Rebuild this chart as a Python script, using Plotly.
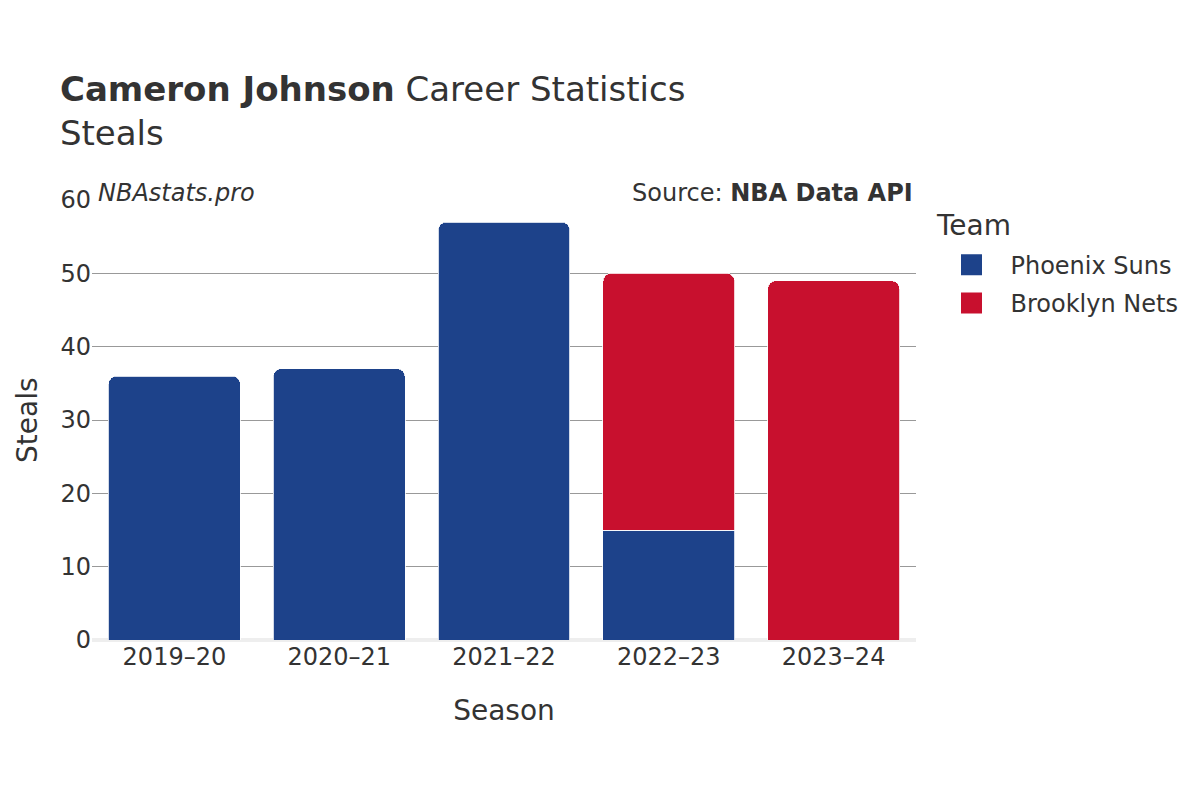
import plotly.graph_objects as go

seasons = ["2019–20", "2020–21", "2021–22", "2022–23", "2023–24"]
suns_steals = [36, 37, 57, 15, None]
nets_steals = [None, None, None, 35, 49]

teams = [
    ("Phoenix Suns", suns_steals, "#1D428A"),
    ("Brooklyn Nets", nets_steals, "#C8102E"),
]

fig = go.Figure()
for name, vals, color in teams:
    fig.add_trace(go.Bar(
        x=seasons, y=vals, name=name, showlegend=False, legendgroup=name,
        marker=dict(color=color, line=dict(color="rgba(255,255,255,0.8)", width=1)),
    ))
# legend entries (larger square symbols)
for name, vals, color in teams:
    fig.add_trace(go.Scatter(
        x=[seasons[0]], y=[None], name=name, legendgroup=name, mode="markers",
        marker=dict(symbol="square", size=16, color=color,
                    line=dict(color=color, width=5)),
        hoverinfo="skip",
    ))

font_family = "DejaVu Sans"
fig.update_layout(
    width=1200, height=800,
    barmode="stack",
    bargap=0.2,
    barcornerradius=8,
    plot_bgcolor="white",
    paper_bgcolor="white",
    font=dict(family=font_family, size=24, color="#333333"),
    margin=dict(l=84, r=292, t=192, b=168),
    title=dict(
        text="<b>Cameron Johnson</b> Career Statistics<br>Steals",
        x=0.0433, xanchor="left",
        y=0.884, yanchor="top",
        font=dict(size=34, color="#333333"),
    ),
    xaxis=dict(
        title=dict(text="Season", font=dict(size=28), standoff=30),
        tickfont=dict(size=24),
        showgrid=False,
        ticks="",
    ),
    yaxis=dict(
        tickfont=dict(size=24),
        automargin=False,
        range=[0, 60],
        dtick=10,
        showgrid=True,
        gridcolor="#999999",
        gridwidth=1,
        zeroline=True,
        zerolinecolor="#eeeeee",
        zerolinewidth=4,
        ticks="",
    ),
    legend=dict(
        font=dict(size=24),
        x=1.02, xanchor="left",
        y=0.903, yanchor="top",
        traceorder="grouped",
        itemwidth=68,
        tracegroupgap=4,
    ),
    annotations=[
        dict(text="<i>NBAstats.pro</i>", xref="paper", yref="paper",
             x=0, y=1, xanchor="left", yanchor="bottom", showarrow=False,
             xshift=4, yshift=-9, font=dict(size=24, color="#333333")),
        dict(text="Source: <b>NBA Data API</b>", xref="paper", yref="paper",
             x=1, y=1, xanchor="right", yanchor="bottom", showarrow=False,
             xshift=-1, yshift=-9, font=dict(size=24, color="#333333")),
        dict(text="Team", xref="paper", yref="paper",
             x=1, y=1, xanchor="left", yanchor="middle", showarrow=False,
             xshift=18, yshift=-25, font=dict(size=28, color="#333333")),
        dict(text="Steals", xref="paper", yref="paper", textangle=-90,
             x=0, y=0.5, xanchor="center", yanchor="middle", showarrow=False,
             xshift=-65, font=dict(size=28, color="#333333")),
    ],
)

fig.write_html("out.html")
